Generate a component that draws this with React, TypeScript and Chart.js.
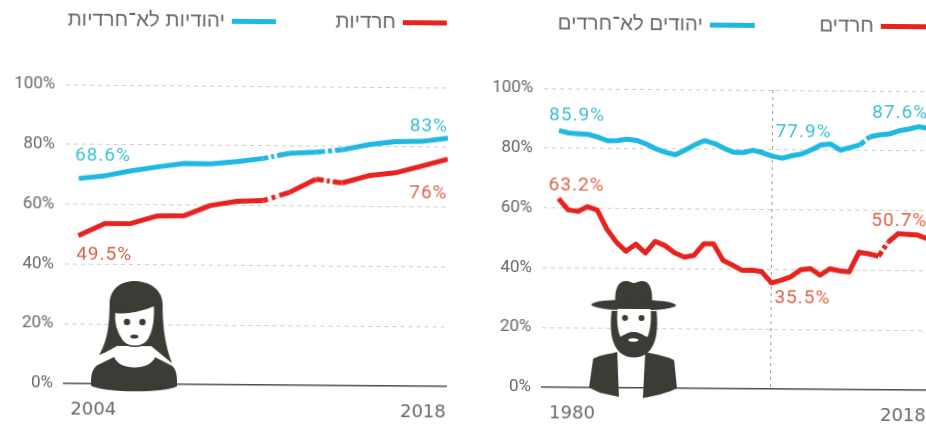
import React, { useEffect, useRef } from "react";
import { Chart, registerables } from "chart.js";

Chart.register(...registerables);

const womenYears = [2004, 2005, 2006, 2007, 2008, 2009, 2010, 2011, 2012, 2013, 2014, 2015, 2016, 2017, 2018];
const womenHaredi = [49.5, 53.6, 53.7, 56.3, 56.4, 59.9, 61.4, 61.7, 64.5, 69.0, 67.8, 70.3, 71.3, 73.6, 76];
const womenNonHaredi = [68.6, 69.6, 71.3, 72.7, 73.9, 73.8, 74.7, 75.8, 77.6, 78.0, 78.9, 80.7, 81.8, 81.9, 83];

const menYears = [1980, 1981, 1982, 1983, 1984, 1985, 1986, 1987, 1988, 1989, 1990, 1991, 1992, 1993, 1994, 1995, 1996, 1997, 1998, 1999, 2000, 2001, 2002, 2003, 2004, 2005, 2006, 2007, 2008, 2009, 2010, 2011, 2012, 2013, 2014, 2015, 2016, 2017, 2018];
const menHaredi = [63.2, 59.4, 58.9, 60.5, 59.4, 53.1, 48.7, 45.7, 48.1, 45.2, 49.1, 47.7, 45.3, 43.9, 44.5, 48.4, 48.4, 42.9, 41.3, 39.6, 39.7, 39.2, 35.5, 36.4, 37.6, 40.0, 40.4, 38.2, 40.4, 39.7, 39.4, 46.0, 45.5, 44.7, 49.5, 52.3, 52.1, 51.9, 50.7];
const menNonHaredi = [85.9, 85.1, 84.9, 84.7, 83.8, 82.6, 82.7, 83.2, 82.8, 81.6, 80.0, 78.9, 78.1, 79.7, 81.5, 82.9, 82.0, 80.4, 79.1, 79.0, 79.8, 79.0, 77.9, 77.2, 78.1, 78.7, 80.1, 81.8, 82.1, 80.1, 81.0, 81.9, 84.6, 85.3, 85.6, 86.7, 87.3, 88.1, 87.6];

const yTicks = [0, 20, 40, 60, 80, 100];
const womenLegend = ["חרדיות", "יהודיות לא־חרדיות"];
const menLegend = ["חרדים", "יהודים לא־חרדים"];
const womenXLabels = ["2004", "2018"];
const menXLabels = ["1980", "", "2018"];

const RED = "#e8221f";
const BLUE = "#1fb8e2";
const RED_TEXT = "#dd6248";
const BLUE_TEXT = "#3dbfd0";
const GREY = "#66686a";
const DARK = "#3a3d36";
const FONT = "Roboto, sans-serif";
const XFONT = "'DejaVu Sans', sans-serif";
const HEB = "'Liberation Sans', 'DejaVu Sans', sans-serif";

type Note = { text: string; ds: number; i: number; dx: number; dy: number; align: CanvasTextAlign };
type Cfg = {
  years: number[]; haredi: number[]; other: number[]; legend: string[]; xLabels: string[];
  xMin: number; xMax: number; xTicks: number[]; yW: number; padR: number; guideTick: number | null;
  redGaps: Record<number, number[]>; blueGaps: Record<number, number[]>;
  notes: Note[];
  legendPos: { swatch: number; w: number; y: number }[];
};

const womenCfg: Cfg = {
  years: womenYears, haredi: womenHaredi, other: womenNonHaredi, legend: womenLegend, xLabels: womenXLabels,
  xMin: 2003.5, xMax: 2018, xTicks: [2003.75, 2018], yW: 65, padR: 16, guideTick: null,
  redGaps: { 7: [5, 4, 4, 4, 30], 9: [8, 3, 3, 3, 30] },
  blueGaps: { 7: [5, 3, 3, 3, 30], 9: [9, 3, 4, 3, 30] },
  notes: [
    { text: "49.5%", ds: 0, i: 0, dx: -2, dy: 19, align: "left" },
    { text: "76%", ds: 0, i: 14, dx: 0, dy: 34, align: "right" },
    { text: "68.6%", ds: 1, i: 0, dx: -4, dy: -23, align: "left" },
    { text: "83%", ds: 1, i: 14, dx: 0, dy: -12, align: "right" },
  ],
  legendPos: [{ swatch: 401, w: 44, y: 17 }, { swatch: 230, w: 44, y: 17 }],
};

const menCfg: Cfg = {
  years: menYears, haredi: menHaredi, other: menNonHaredi, legend: menLegend, xLabels: menXLabels,
  xMin: 1978.45, xMax: 2018, xTicks: [1979.2, 2002, 2018], yW: 80, padR: 16, guideTick: 2002,
  redGaps: { 33: [6, 3, 4, 3, 30] },
  blueGaps: { 31: [6, 3, 30] },
  notes: [
    { text: "63.2%", ds: 0, i: 0, dx: -10, dy: -13, align: "left" },
    { text: "35.5%", ds: 0, i: 22, dx: 3, dy: 15, align: "left" },
    { text: "50.7%", ds: 0, i: 38, dx: 0, dy: -17, align: "right" },
    { text: "85.9%", ds: 1, i: 0, dx: -10, dy: -15, align: "left" },
    { text: "77.9%", ds: 1, i: 22, dx: 3, dy: -24, align: "left" },
    { text: "87.6%", ds: 1, i: 38, dx: 0, dy: -15, align: "right" },
  ],
  legendPos: [{ swatch: 416, w: 60, y: 17 }, { swatch: 245, w: 45, y: 17 }],
};

function makeChart(canvas: HTMLCanvasElement, c: Cfg) {
  const overlay = {
    id: "overlay",
    afterDatasetsDraw(chart: any) {
      const { ctx } = chart;
      ctx.save();
      ctx.textBaseline = "middle";
      ctx.font = `19px ${FONT}`;
      (ctx as any).letterSpacing = "1px";
      c.notes.forEach((n) => {
        const p = chart.getDatasetMeta(n.ds).data[n.i];
        ctx.fillStyle = n.ds === 0 ? RED_TEXT : BLUE_TEXT;
        ctx.textAlign = n.align;
        ctx.fillText(n.text, p.x + n.dx, p.y + n.dy);
      });
      (ctx as any).letterSpacing = "0px";
      ctx.font = `20.5px ${HEB}`;
      c.legend.forEach((t, k) => {
        const l = c.legendPos[k];
        ctx.fillStyle = k === 0 ? RED : BLUE;
        ctx.fillRect(l.swatch, l.y, l.w, 5);
        ctx.fillStyle = GREY;
        ctx.direction = "rtl";
        ctx.textAlign = "start";
        ctx.fillText(t, l.swatch - 7, l.y + 2);
      });
      ctx.restore();
    },
  };
  const seg = (gaps: Record<number, number[]>) => ({
    borderDash: (s: any) => gaps[s.p0DataIndex],
  });
  return new Chart(canvas, {
    type: "line",
    data: {
      datasets: [
        {
          data: c.years.map((x, i) => ({ x, y: c.haredi[i] })),
          borderColor: RED, borderWidth: 5, pointRadius: 0, tension: 0,
          borderJoinStyle: "round", segment: seg(c.redGaps),
        },
        {
          data: c.years.map((x, i) => ({ x, y: c.other[i] })),
          borderColor: BLUE, borderWidth: 5, pointRadius: 0, tension: 0,
          borderJoinStyle: "round", segment: seg(c.blueGaps),
        },
      ],
    } as any,
    options: {
      animation: false,
      responsive: false,
      events: [],
      layout: { padding: { top: 84, right: c.padR, left: 0, bottom: 0 } },
      plugins: { legend: { display: false }, tooltip: { enabled: false } },
      scales: {
        x: {
          type: "linear",
          min: c.xMin,
          max: c.xMax,
          afterBuildTicks: (s: any) => { s.ticks = c.xTicks.map((value) => ({ value })); },
          afterFit: (s: any) => { s.height = 42; },
          border: { display: true, color: "#4c4e4c", width: 1.5, dash: [3, 4] },
          grid: {
            drawTicks: false,
            color: (g: any) => (g.tick && g.tick.value === c.guideTick ? "#9a9c98" : "transparent"),
          },
          ticks: {
            align: "inner",
            maxRotation: 0,
            autoSkip: false,
            padding: 16,
            color: GREY,
            font: { family: XFONT, size: 18 },
            callback: (_v: any, i: number) => c.xLabels[i],
          },
        },
        y: {
          min: 0,
          max: 100,
          afterBuildTicks: (s: any) => { s.ticks = yTicks.map((value) => ({ value })); },
          afterFit: (s: any) => { s.width = c.yW; },
          border: { display: false, dash: [4, 4] },
          grid: {
            drawTicks: false,
            color: (g: any) => (g.tick && g.tick.value === 0 ? "transparent" : "#cfcfc6"),
          },
          ticks: {
            padding: 11,
            color: GREY,
            font: { family: FONT, size: 17 },
            callback: (v: any) => `${v}%`,
          },
        },
      },
    } as any,
    plugins: [overlay],
  });
}

function Woman() {
  return (
    <svg style={{ position: "absolute", left: 0, top: 0 }} width={463} height={425}>
      <path fill={DARK} d="M135 280 C120 280 110 289 110 303 C110 325 108 340 100 354 L118 348 L152 348 L173 362 C166 345 163 325 163 303 C163 289 150 280 135 280 Z" />
      <path fill="#fff" d="M100 355 L118 345 L152 345 L173 362 L160 372 L112 372 Z" />
      <path fill="#fff" stroke={DARK} strokeWidth={1.5} d="M115 311 C128 314 146 308 155 304 C156 322 154 332 148 340 C142 347 129 347 123 340 C117 332 114 322 115 311 Z" />
      <circle cx={127.5} cy={321} r={3.2} fill={DARK} />
      <circle cx={143} cy={321} r={3.2} fill={DARK} />
      <ellipse cx={135} cy={335.5} rx={4} ry={2} fill={DARK} />
      <path fill={DARK} d="M92 380 C92 371 95 365 101 363 L115 356 C120 370 150 370 156 356 L170 363 C176 365 178 371 178 380 L178 385 C165 392 105 392 92 385 Z" />
    </svg>
  );
}

function Man() {
  return (
    <svg style={{ position: "absolute", left: 0, top: 0 }} width={926} height={425}>
      <path fill={DARK} d="M616 302 C614 285 618 276 626 276 C630 276 632 278 634 278 C636 278 639 276 643 276 C650 276 654 285 652 302 Z" />
      <ellipse cx={634} cy={300} rx={42.5} ry={5.5} fill={DARK} />
      <path fill={DARK} d="M612 306 L657 306 C659 325 657 340 648 348 C640 354 629 354 621 348 C612 340 610 325 612 306 Z" />
      <path fill="#fff" d="M618 304 L651 304 C652 315 651 325 648 332 C642 329 639 327 634 327 C629 327 626 329 621 332 C618 325 617 315 618 304 Z" />
      <circle cx={625.5} cy={313} r={3} fill={DARK} />
      <circle cx={642} cy={313} r={3} fill={DARK} />
      <ellipse cx={634} cy={335} rx={5} ry={1.8} fill="#fff" />
      <path fill={DARK} d="M594 354 C601 350 612 349 618 347 L620 392 L601 388 L590 383 Z" />
      <path fill={DARK} d="M646 347 C655 349 668 351 675 355 L678 383 C668 388 655 391 644 393 Z" />
    </svg>
  );
}

export default function App() {
  const leftRef = useRef<HTMLCanvasElement>(null);
  const rightRef = useRef<HTMLCanvasElement>(null);
  useEffect(() => {
    const a = makeChart(leftRef.current!, womenCfg);
    const b = makeChart(rightRef.current!, menCfg);
    return () => { a.destroy(); b.destroy(); };
  }, []);
  return (
    <div style={{ position: "fixed", left: 0, top: 0, width: 926, height: 425, overflow: "hidden", background: "#fff" }}>
      <div style={{ position: "absolute", left: 2, top: 0, width: 960, height: 440, transform: "rotate(0.45deg)", transformOrigin: "0 0", filter: "blur(0.35px)" }}>
        <canvas ref={leftRef} width={463} height={425} style={{ position: "absolute", left: 0, top: 0, width: 463, height: 425 }} />
        <canvas ref={rightRef} width={480} height={425} style={{ position: "absolute", left: 463, top: 0, width: 480, height: 425 }} />
        <Woman />
        <Man />
      </div>
    </div>
  );
}
